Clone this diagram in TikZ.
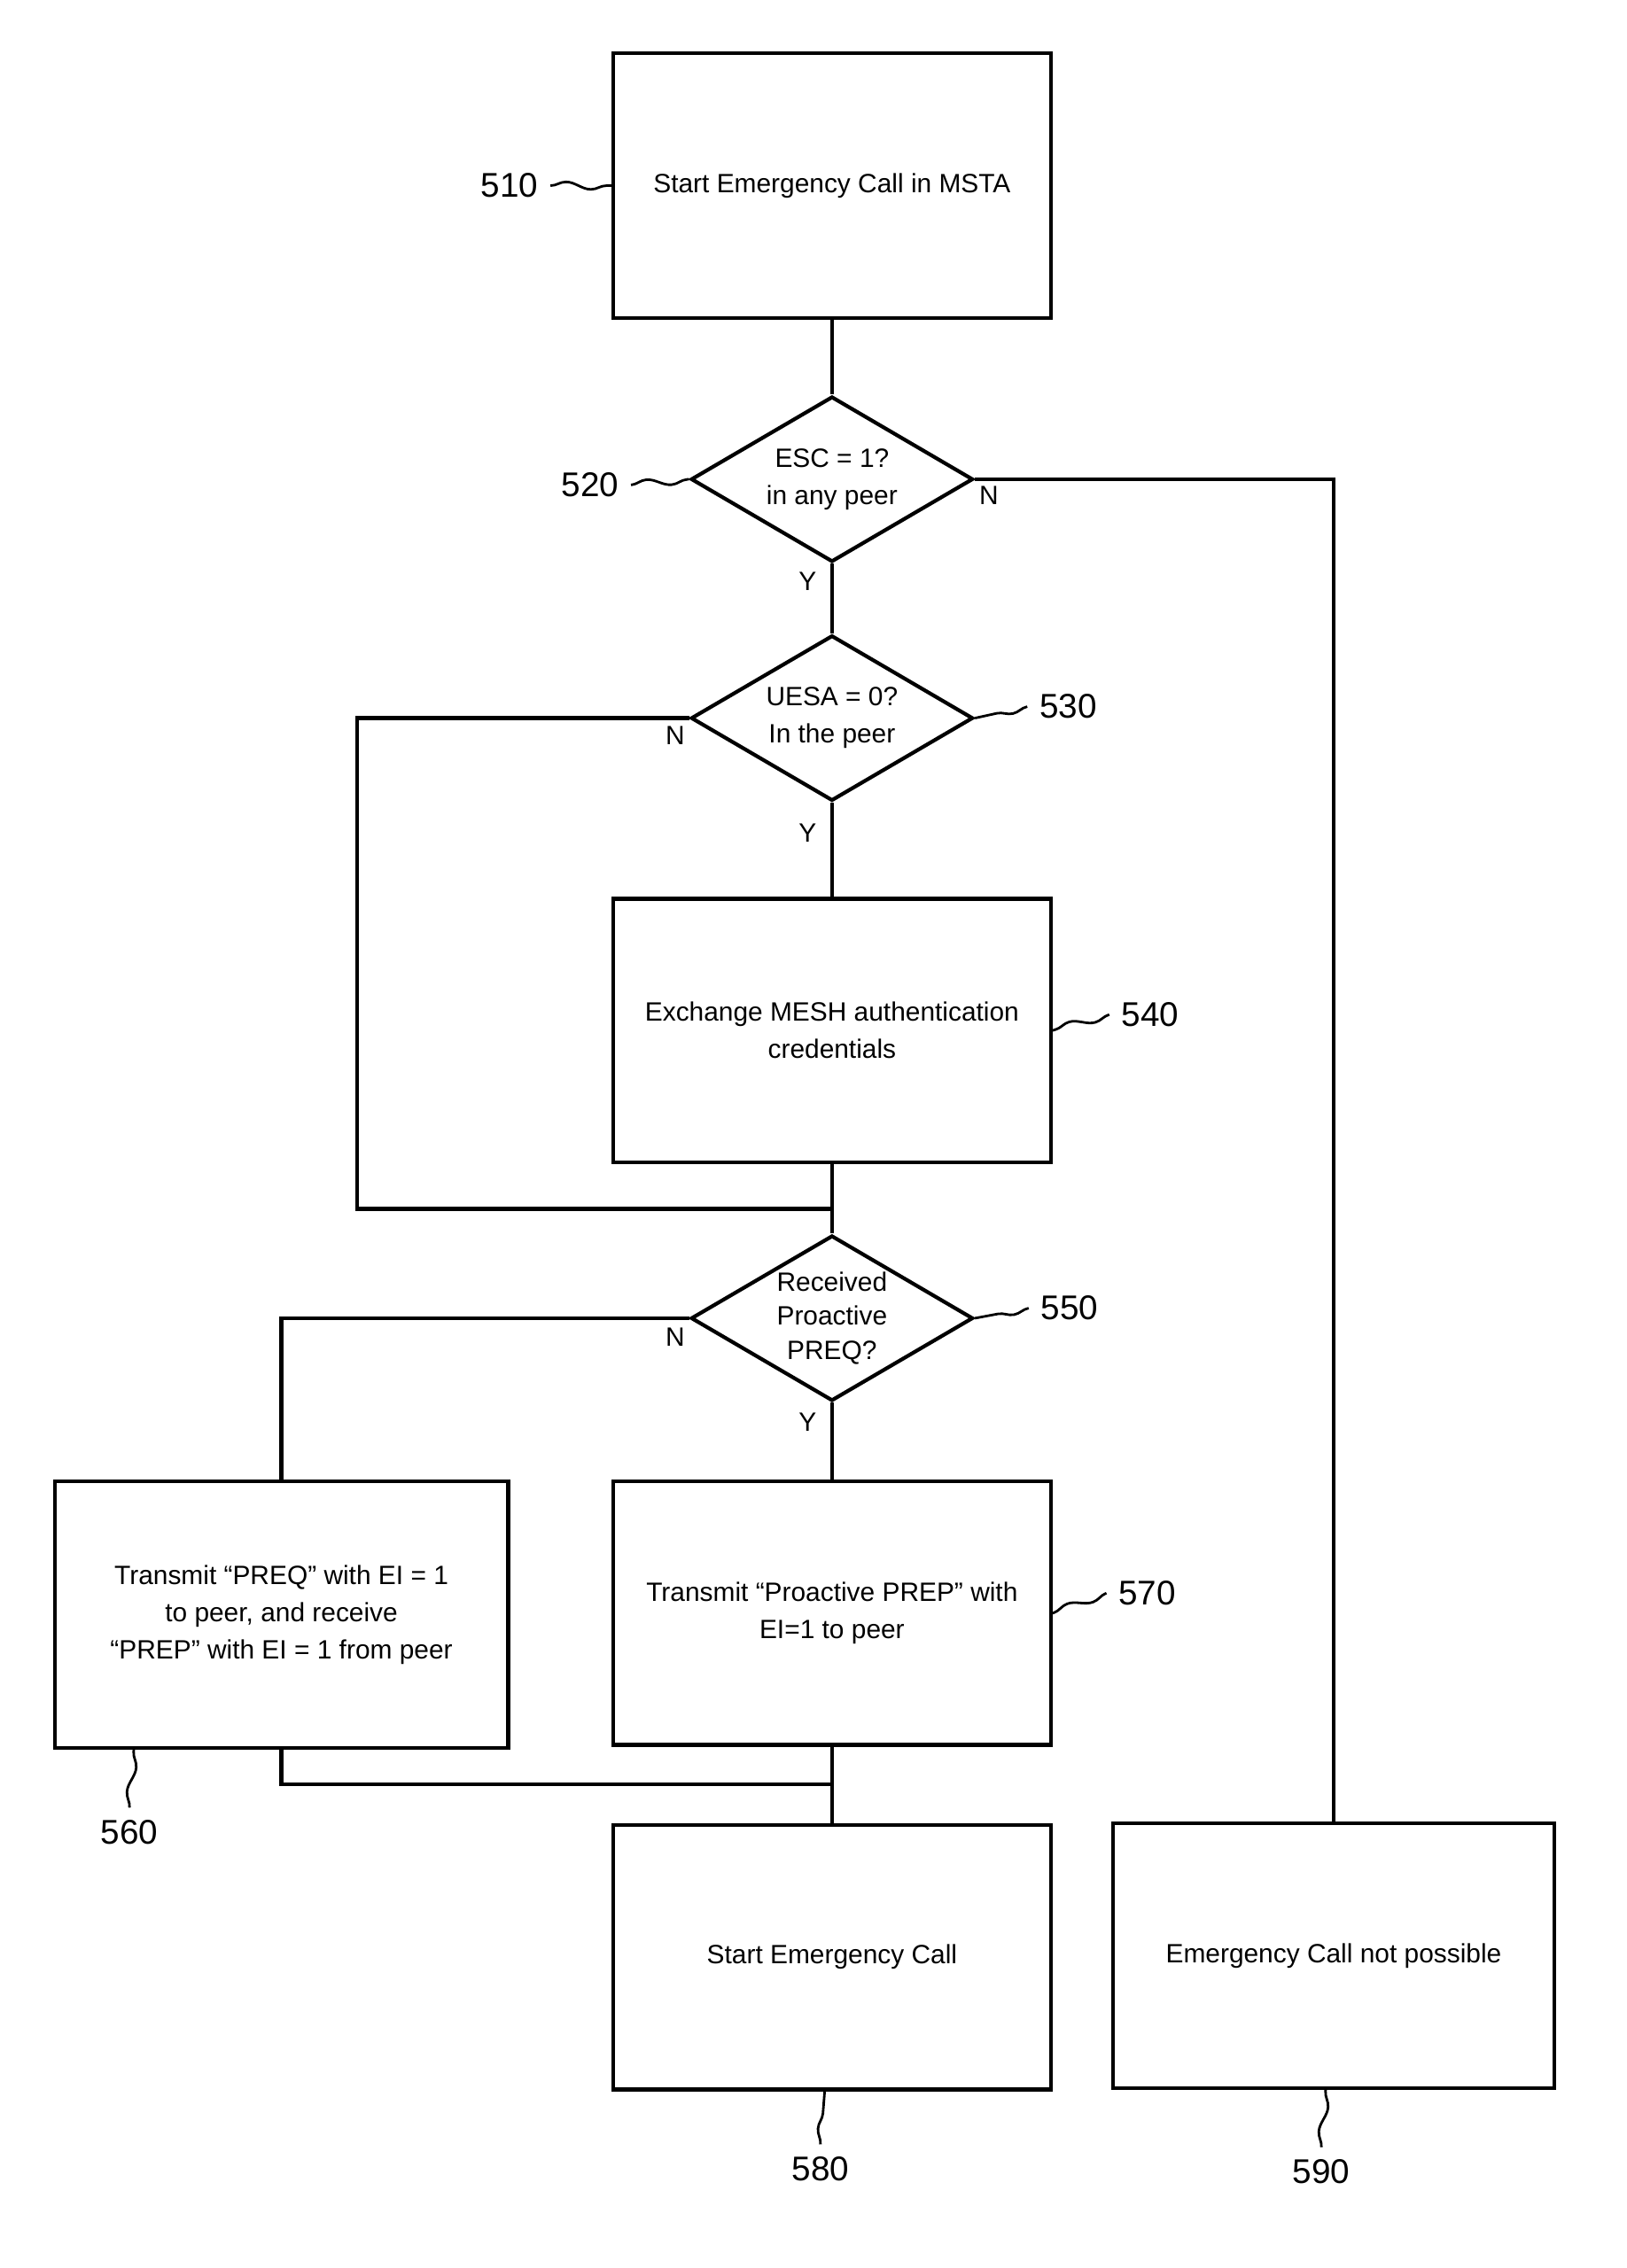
\documentclass[tikz,border=0pt]{standalone}
\usepackage{fontspec}
\setmainfont{Liberation Sans}
\usetikzlibrary{positioning,shapes.geometric,decorations.pathmorphing}

\begin{document}
\begin{tikzpicture}[x=0.01624cm, y=-0.01624cm, line width=1.2pt,
    stepbox/.style = {draw, rectangle, minimum width=304*0.01624cm, minimum height=184*0.01624cm, align=center, font=\fontsize{8.5}{12}\selectfont, inner sep=2pt},
    test/.style = {draw, diamond, inner sep=0pt, minimum width=196*0.01624cm, minimum height=115*0.01624cm, aspect=1.7, align=center, font=\fontsize{8.5}{12}\selectfont},
    num/.style = {font=\fontsize{11}{13}\selectfont},
    yn/.style = {font=\fontsize{8.5}{10}\selectfont},
    squig/.style = {line width=0.8pt, decorate, decoration={snake, amplitude=1.2pt, segment length=16pt}}]
    \useasboundingbox (0,0) rectangle (1130,1576);

    \node[stepbox] (s510) at (578,129) {Start Emergency Call in MSTA};
    \node[test] (d520) at (578,333) {ESC = 1?\\in any peer};
    \node[test] (d530) at (578,499) {UESA = 0?\\In the peer};
    \node[stepbox, minimum height=183*0.01624cm] (s540) at (578,716) {Exchange MESH authentication\\credentials};
    \node[draw, diamond, minimum width=196*0.01624cm, minimum height=115*0.01624cm] (d550) at (578,916) {};
    \node[align=center, font=\fontsize{8.5}{11}\selectfont] at (d550) {Received\\Proactive\\PREQ?};
    \node[stepbox, minimum width=315*0.01624cm, minimum height=185*0.01624cm] (s560) at (195.5,1122) {Transmit ``PREQ'' with EI = 1\\to peer, and receive\\``PREP'' with EI = 1 from peer};
    \node[stepbox, minimum height=183*0.01624cm] (s570) at (578,1121) {Transmit ``Proactive PREP'' with\\EI=1 to peer};
    \node[stepbox] (s580) at (578,1360) {Start Emergency Call};
    \node[stepbox, minimum width=307*0.01624cm] (s590) at (926.5,1359) {Emergency Call not possible};

    \coordinate (j1) at (578,840);
    \coordinate (j2) at (578,1240);

    \draw (s510) -- (d520);
    \draw (d520.east) -| (s590.north);
    \draw (d520) -- (d530);
    \draw (d530) -- (s540);
    \draw (d530.west) -- (248,499) |- (j1);
    \draw (s540) -- (d550);
    \draw (d550.west) -| (s560.north);
    \draw (d550) -- (s570);
    \draw (s560.south) |- (j2);
    \draw (s570) -- (s580);

    \node[yn] at (687,344) {N};
    \node[yn] at (561,404) {Y};
    \node[yn] at (469,511) {N};
    \node[yn] at (561,579) {Y};
    \node[yn] at (469,929) {N};
    \node[yn] at (561,988) {Y};

    \node[num] (n510) at (354,129) {510};
    \node[num] (n520) at (410,337) {520};
    \node[num] (n530) at (742,491) {530};
    \node[num] (n540) at (799,705) {540};
    \node[num] (n550) at (743,909) {550};
    \node[num] (n570) at (797,1107) {570};
    \node[num] (n560) at (90,1273) {560};
    \node[num] (n580) at (570,1507) {580};
    \node[num] (n590) at (918,1509) {590};

    \draw[squig] (n510.east) -- (s510.west);
    \draw[squig] (n520.east) -- (d520.west);
    \draw[squig] (n530.west) -- (d530.east);
    \draw[squig] (n540.west) -- (s540.east);
    \draw[squig] (n550.west) -- (d550.east);
    \draw[squig] (n570.west) -- (s570.east);
    \draw[squig] (n560.north) -- (93,1215);
    \draw[squig] (n580.north) -- (573,1452);
    \draw[squig] (n590.north) -- (921,1451);
\end{tikzpicture}
\end{document}
